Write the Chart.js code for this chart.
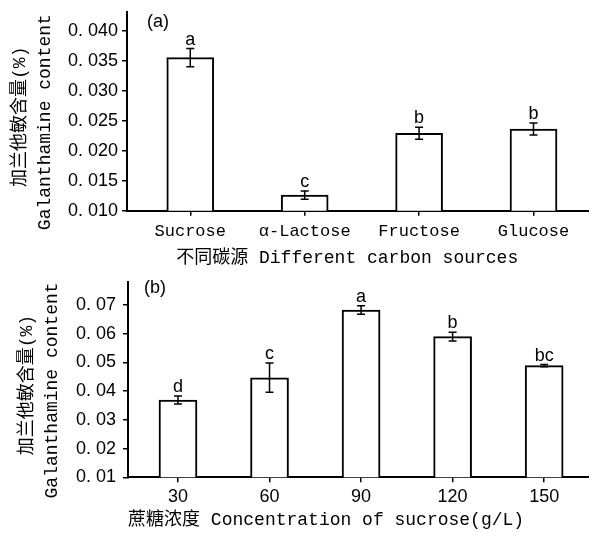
<!DOCTYPE html>
<html>
<head>
<meta charset="utf-8">
<script src="https://cdn.jsdelivr.net/npm/chart.js@4.4.1/dist/chart.umd.min.js"></script>
<style>
html, body { margin: 0; padding: 0; background: #fff; }
#wrap { position: relative; width: 589px; height: 533px; background: #fff; }
canvas { position: absolute; left: 0; }
</style>
</head>
<body>
<div id="wrap">
  <canvas id="chartA" width="589" height="268" style="top:0px"></canvas>
  <canvas id="chartB" width="589" height="265" style="top:268px"></canvas>
</div>
<script>
// ---------- Panel (a) data ----------
const categoriesA = ['Sucrose', 'α-Lactose', 'Fructose', 'Glucose'];
const valuesA = [0.0355, 0.0126, 0.0229, 0.0236];
const errorsA = [0.0015, 0.0007, 0.0010, 0.0010];
const lettersA = ['a', 'c', 'b', 'b'];
const yTicksA = [0.010, 0.015, 0.020, 0.025, 0.030, 0.035, 0.040];
const yTickLabelsA = ['0. 010', '0. 015', '0. 020', '0. 025', '0. 030', '0. 035', '0. 040'];

// ---------- Panel (b) data ----------
const categoriesB = ['30', '60', '90', '120', '150'];
const valuesB = [0.0369, 0.0447, 0.0683, 0.0590, 0.0489];
const errorsB = [0.0014, 0.0051, 0.0015, 0.0015, 0.0004];
const lettersB = ['d', 'c', 'a', 'b', 'bc'];
const yTicksB = [0.01, 0.02, 0.03, 0.04, 0.05, 0.06, 0.07];
const yTickLabelsB = ['0. 01', '0. 02', '0. 03', '0. 04', '0. 05', '0. 06', '0. 07'];

const MONO = "'Liberation Mono', 'Noto Sans CJK SC', monospace";
const SANS = "'Liberation Sans', Arial, sans-serif";

function overlayPlugin(values, errors, letters, panelLabel, dx, dy) {
  return {
    id: 'overlay',
    afterDatasetsDraw(chart) {
      const ctx = chart.ctx;
      const x = chart.scales.x, y = chart.scales.y;
      ctx.save();
      ctx.strokeStyle = '#000';
      ctx.fillStyle = '#000';
      ctx.lineWidth = 1.5;
      ctx.font = '18px ' + SANS;
      ctx.textAlign = 'center';
      ctx.textBaseline = 'alphabetic';
      values.forEach((v, i) => {
        const px = x.getPixelForValue(i);
        const top = y.getPixelForValue(v + errors[i]);
        const bot = y.getPixelForValue(v - errors[i]);
        ctx.beginPath();
        ctx.moveTo(px, top); ctx.lineTo(px, bot);
        ctx.moveTo(px - 4, top); ctx.lineTo(px + 4, top);
        ctx.moveTo(px - 4, bot); ctx.lineTo(px + 4, bot);
        ctx.stroke();
        ctx.fillText(letters[i], px, top - 4);
      });
      ctx.textBaseline = 'middle';
      ctx.fillText(panelLabel, chart.chartArea.left + dx, chart.chartArea.top + dy);
      ctx.restore();
    }
  };
}

function build(id, p) {
  const data = p.categories.map((c, i) => ({ x: i, y: p.values[i] }));
  return new Chart(document.getElementById(id), {
    type: 'bar',
    data: {
      datasets: [{
        data: data,
        backgroundColor: '#fff',
        borderColor: '#000',
        borderWidth: 2,
        borderSkipped: 'start',
        barThickness: p.barThickness
      }]
    },
    options: {
      responsive: false,
      animation: false,
      devicePixelRatio: 1,
      layout: { padding: { top: p.chartTop, left: 0, right: 0, bottom: 0 } },
      plugins: { legend: { display: false }, tooltip: { enabled: false } },
      scales: {
        x: {
          type: 'linear',
          bounds: 'data',
          min: p.xMin,
          max: p.xMax,
          offset: false,
          afterBuildTicks: s => { s.ticks = p.categories.map((c, i) => ({ value: i })); },
          afterFit: s => { s.height = p.xAxisHeight; s.paddingLeft = 0; s.paddingRight = 0; },
          ticks: {
            callback: v => p.categories[v],
            font: p.xTickFont,
            color: '#000',
            padding: p.xTickPadding,
            maxRotation: 0,
            autoSkip: false
          },
          grid: { display: true, drawOnChartArea: false, drawTicks: true, tickLength: 5, color: '#000', lineWidth: 1.5, offset: false },
          border: { display: true, color: '#000', width: 2 },
          title: {
            display: true,
            text: p.xTitle,
            color: '#000',
            font: { family: MONO, size: 18, lineHeight: '20px' },
            padding: { top: 0, bottom: p.xTitlePadBottom }
          }
        },
        y: {
          type: 'linear',
          bounds: 'data',
          min: p.yMin,
          max: p.yMax,
          afterBuildTicks: s => { s.ticks = p.yTicks.map(v => ({ value: v })); },
          afterFit: s => { s.width = p.axisLeft; s.paddingTop = 0; s.paddingBottom = 0; },
          ticks: {
            callback: (v, i) => p.yTickLabels[i],
            font: { family: SANS, size: 18 },
            color: '#000',
            padding: p.yTickPadding
          },
          grid: { display: true, drawOnChartArea: false, drawTicks: true, tickLength: 5, color: '#000', lineWidth: 1.5 },
          border: { display: true, color: '#000', width: 2 },
          title: {
            display: true,
            text: p.yTitle,
            color: '#000',
            font: { family: MONO, size: 18, lineHeight: '25px' },
            padding: { top: p.yTitlePad, bottom: 0 }
          }
        }
      }
    },
    plugins: [overlayPlugin(p.values, p.errors, p.letters, p.panel, p.panelDx, p.panelDy)]
  });
}

build('chartA', {
  categories: categoriesA, values: valuesA, errors: errorsA, letters: lettersA,
  yTicks: yTicksA, yTickLabels: yTickLabelsA,
  yMin: 0.010, yMax: 0.0431, xMin: -0.553, xMax: 3.485,
  barThickness: 47, axisLeft: 127, chartTop: 12, xAxisHeight: 57.3,
  xTickFont: { family: MONO, size: 17 }, xTickPadding: 6, yTickPadding: 4,
  xTitle: '不同碳源 Different carbon sources  ', xTitlePadBottom: 0,
  yTitle: ['加兰他敏含量(%) ', 'Galanthamine content  '], yTitlePad: 7.5,
  panel: '(a)', panelDx: 31, panelDy: 10
});

build('chartB', {
  categories: categoriesB, values: valuesB, errors: errorsB, letters: lettersB,
  yTicks: yTicksB, yTickLabels: yTickLabelsB,
  yMin: 0.01, yMax: 0.07805, xMin: -0.546, xMax: 4.49,
  barThickness: 38, axisLeft: 128, chartTop: 14, xAxisHeight: 55.7,
  xTickFont: { family: SANS, size: 18 }, xTickPadding: 4, yTickPadding: 7,
  xTitle: '蔗糖浓度 Concentration of sucrose(g/L)      ', xTitlePadBottom: 3,
  yTitle: ['加兰他敏含量(%) ', 'Galanthamine content  '], yTitlePad: 14.5,
  panel: '(b)', panelDx: 27, panelDy: 6
});
</script>
</body>
</html>
